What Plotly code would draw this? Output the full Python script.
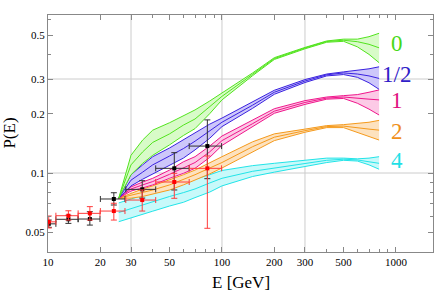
import plotly.graph_objects as go

# ---------------- data ----------------
BAND_E = [25.5, 30, 35, 40, 50, 60, 70, 85, 100, 150, 200, 300, 400, 500, 600, 700, 800]

G_HI = [0.0745, 0.123, 0.147, 0.165, 0.180, 0.196, 0.209, 0.232, 0.255, 0.322, 0.385, 0.434, 0.468, 0.478, 0.478, 0.492, 0.512]
G_MID = [0.0745, 0.110, 0.128, 0.143, 0.158, 0.175, 0.188, 0.216, 0.245, 0.317, 0.381, 0.431, 0.465, 0.472, 0.464, 0.450, 0.432]
G_LO = [0.0745, 0.098, 0.112, 0.123, 0.139, 0.155, 0.168, 0.200, 0.235, 0.312, 0.377, 0.427, 0.461, 0.466, 0.437, 0.400, 0.363]

B_HI = [0.0745, 0.098, 0.110, 0.121, 0.134, 0.147, 0.160, 0.177, 0.190, 0.229, 0.263, 0.298, 0.318, 0.326, 0.331, 0.338, 0.346]
B_MID = [0.0745, 0.092, 0.101, 0.110, 0.122, 0.133, 0.145, 0.163, 0.181, 0.221, 0.257, 0.293, 0.315, 0.322, 0.318, 0.311, 0.302]
B_LO = [0.0745, 0.086, 0.093, 0.099, 0.110, 0.119, 0.131, 0.150, 0.172, 0.213, 0.251, 0.288, 0.311, 0.316, 0.306, 0.287, 0.266]

M_HI = [0.0745, 0.085, 0.090, 0.094, 0.1035, 0.114, 0.121, 0.137, 0.154, 0.185, 0.212, 0.233, 0.243, 0.247, 0.250, 0.257, 0.264]
M_MID = [0.0745, 0.083, 0.087, 0.0905, 0.0985, 0.1065, 0.113, 0.128, 0.146, 0.178, 0.206, 0.228, 0.240, 0.243, 0.239, 0.237, 0.235]
M_LO = [0.0745, 0.081, 0.084, 0.087, 0.094, 0.0996, 0.1056, 0.120, 0.138, 0.172, 0.201, 0.223, 0.237, 0.239, 0.226, 0.211, 0.197]

O_HI = [0.0745, 0.079, 0.083, 0.086, 0.092, 0.098, 0.1035, 0.113, 0.121, 0.144, 0.158, 0.167, 0.174, 0.176, 0.178, 0.181, 0.185]
O_MID = [0.0745, 0.077, 0.0795, 0.082, 0.087, 0.0925, 0.098, 0.106, 0.113, 0.136, 0.152, 0.164, 0.172, 0.173, 0.169, 0.167, 0.165]
O_LO = [0.0745, 0.0745, 0.076, 0.078, 0.082, 0.087, 0.092, 0.099, 0.106, 0.128, 0.146, 0.161, 0.170, 0.170, 0.161, 0.154, 0.147]

C_HI = [0.0705, 0.074, 0.077, 0.080, 0.085, 0.089, 0.093, 0.098, 0.103, 0.109, 0.112, 0.116, 0.119, 0.119, 0.118, 0.119, 0.121]
C_MID = [0.063, 0.066, 0.069, 0.0715, 0.076, 0.0795, 0.083, 0.089, 0.094, 0.102, 0.106, 0.112, 0.116, 0.1175, 0.1165, 0.114, 0.112]
C_LO = [0.0566, 0.059, 0.0615, 0.064, 0.068, 0.071, 0.075, 0.080, 0.086, 0.096, 0.101, 0.108, 0.113, 0.116, 0.115, 0.110, 0.1045]

BAND_LABELS = ["0", "1/2", "1", "2", "4"]

PT_E = [10.1, 13.1, 17.4, 23.9, 34.8, 53.2, 82.4]
PT_E_LO = [9.8, 11.1, 14.9, 20.0, 28.0, 41.6, 64.8]
PT_E_HI = [11.1, 14.9, 19.9, 27.7, 41.6, 64.8, 99.5]

BLACK_P = [0.0552, 0.0582, 0.0584, 0.0738, 0.0826, 0.1056, 0.137]
BLACK_P_LO = [0.0530, 0.0555, 0.0544, 0.0688, 0.0746, 0.0820, 0.0936]
BLACK_P_HI = [0.0577, 0.0610, 0.0636, 0.0794, 0.0914, 0.1268, 0.186]

RED_P = [0.0565, 0.0607, 0.0624, 0.0641, 0.0729, 0.090, 0.1056]
RED_P_LO = [0.0526, 0.0577, 0.0577, 0.0577, 0.0641, 0.0744, 0.0524]
RED_P_HI = [0.0605, 0.0643, 0.0675, 0.0702, 0.0820, 0.0996, 0.122]

X_TICKS = [10, 20, 30, 50, 100, 200, 300, 500, 1000]
X_TICK_TEXT = ["10", "20", "30", "50", "100", "200", "300", "500", "1000"]
X_MINOR = [40, 60, 70, 80, 90, 400, 600, 700, 800, 900]
Y_TICKS = [0.05, 0.1, 0.2, 0.3, 0.5]
Y_TICK_TEXT = ["0.05", "0.1", "0.2", "0.3", "0.5"]
Y_MINOR = [0.04, 0.06, 0.07, 0.08, 0.09, 0.4, 0.6]
X_GRID = [30, 100, 300]
Y_GRID = [0.1, 0.3]

# ---------------- style ----------------
FONT = "Liberation Serif"
bands = [
    (C_LO, C_MID, C_HI, "#22e4e8", "#c8f9fa"),
    (O_LO, O_MID, O_HI, "#f59a1c", "#fde2bf"),
    (M_LO, M_MID, M_HI, "#f0168c", "#fccae6"),
    (B_LO, B_MID, B_HI, "#3a22e0", "#cdc7fa"),
    (G_LO, G_MID, G_HI, "#52e41e", "#d8fbc8"),
]
label_pos = {"0": 0.881, "1/2": 0.747, "1": 0.641, "2": 0.508, "4": 0.388}
label_col = {"0": "#48d818", "1/2": "#3020c8", "1": "#e0107f", "2": "#f0901a", "4": "#1fe0e6"}

fig = go.Figure()

for lo, mid, hi, lc, fc in bands:
    fig.add_trace(go.Scatter(x=BAND_E, y=hi, mode="lines",
                             line=dict(color=lc, width=1), showlegend=False, hoverinfo="skip"))
    fig.add_trace(go.Scatter(x=BAND_E, y=lo, mode="lines", fill="tonexty", fillcolor=fc,
                             line=dict(color=lc, width=1), showlegend=False, hoverinfo="skip"))
    fig.add_trace(go.Scatter(x=BAND_E, y=mid, mode="lines",
                             line=dict(color=lc, width=1), showlegend=False, hoverinfo="skip"))


def pts(p, plo, phi, col, barcol):
    return go.Scatter(
        x=PT_E, y=p, mode="markers",
        marker=dict(symbol="square", size=4, color=col),
        error_x=dict(type="data", symmetric=False,
                     array=[h - e for h, e in zip(PT_E_HI, PT_E)],
                     arrayminus=[e - l for l, e in zip(PT_E_LO, PT_E)],
                     color=barcol, thickness=1, width=3),
        error_y=dict(type="data", symmetric=False,
                     array=[h - v for h, v in zip(phi, p)],
                     arrayminus=[v - l for l, v in zip(plo, p)],
                     color=barcol, thickness=1, width=3),
        showlegend=False, hoverinfo="skip")


fig.add_trace(pts(BLACK_P, BLACK_P_LO, BLACK_P_HI, "#000000", "#303030"))
fig.add_trace(pts(RED_P, RED_P_LO, RED_P_HI, "#ff0000", "#ff3c3c"))

for gx in X_GRID:
    fig.add_vline(x=gx, line=dict(color="#cccccc", width=1), layer="below")
for gy in Y_GRID:
    fig.add_hline(y=gy, line=dict(color="#cccccc", width=1), layer="below")

for lab in BAND_LABELS:
    fig.add_annotation(text=lab, xref="paper", yref="paper", x=0.906, y=label_pos[lab],
                       xanchor="center", yanchor="middle", showarrow=False,
                       font=dict(family=FONT, size=23, color=label_col[lab]))

fig.add_annotation(text="E [GeV]", xref="paper", yref="paper", x=0.5, y=-0.127,
                   xanchor="center", yanchor="middle", showarrow=False,
                   font=dict(family=FONT, size=17, color="#000000"))
fig.add_annotation(text="P(E)", xref="paper", yref="paper", x=-0.101, y=0.5, textangle=-90,
                   xanchor="center", yanchor="middle", showarrow=False,
                   font=dict(family=FONT, size=17, color="#000000"))

axis_common = dict(showgrid=False, zeroline=False, showline=True, linecolor="#888888", linewidth=1,
                   mirror="allticks", ticks="inside", ticklen=5, tickcolor="#888888",
                   tickfont=dict(family=FONT, size=11, color="#000000"), automargin=False)

fig.update_xaxes(type="log", range=[1.0, 3.213], tickmode="array", tickvals=X_TICKS,
                 ticktext=X_TICK_TEXT,
                 minor=dict(tickmode="array", tickvals=X_MINOR, ticks="inside", ticklen=3,
                            tickcolor="#888888", showgrid=False),
                 **axis_common)
fig.update_yaxes(type="log", range=[-1.401, -0.198], tickmode="array", tickvals=Y_TICKS,
                 ticktext=Y_TICK_TEXT,
                 minor=dict(tickmode="array", tickvals=Y_MINOR, ticks="inside", ticklen=3,
                            tickcolor="#888888", showgrid=False),
                 **axis_common)

fig.update_layout(width=436, height=292, margin=dict(l=48, r=3, t=15, b=40),
                  plot_bgcolor="white", paper_bgcolor="white", showlegend=False)

# remove the default 8px page margin so the figure fills the window exactly
fig.write_html("out.html", config={"displayModeBar": False},
               post_script="document.body.style.margin='0px';")
